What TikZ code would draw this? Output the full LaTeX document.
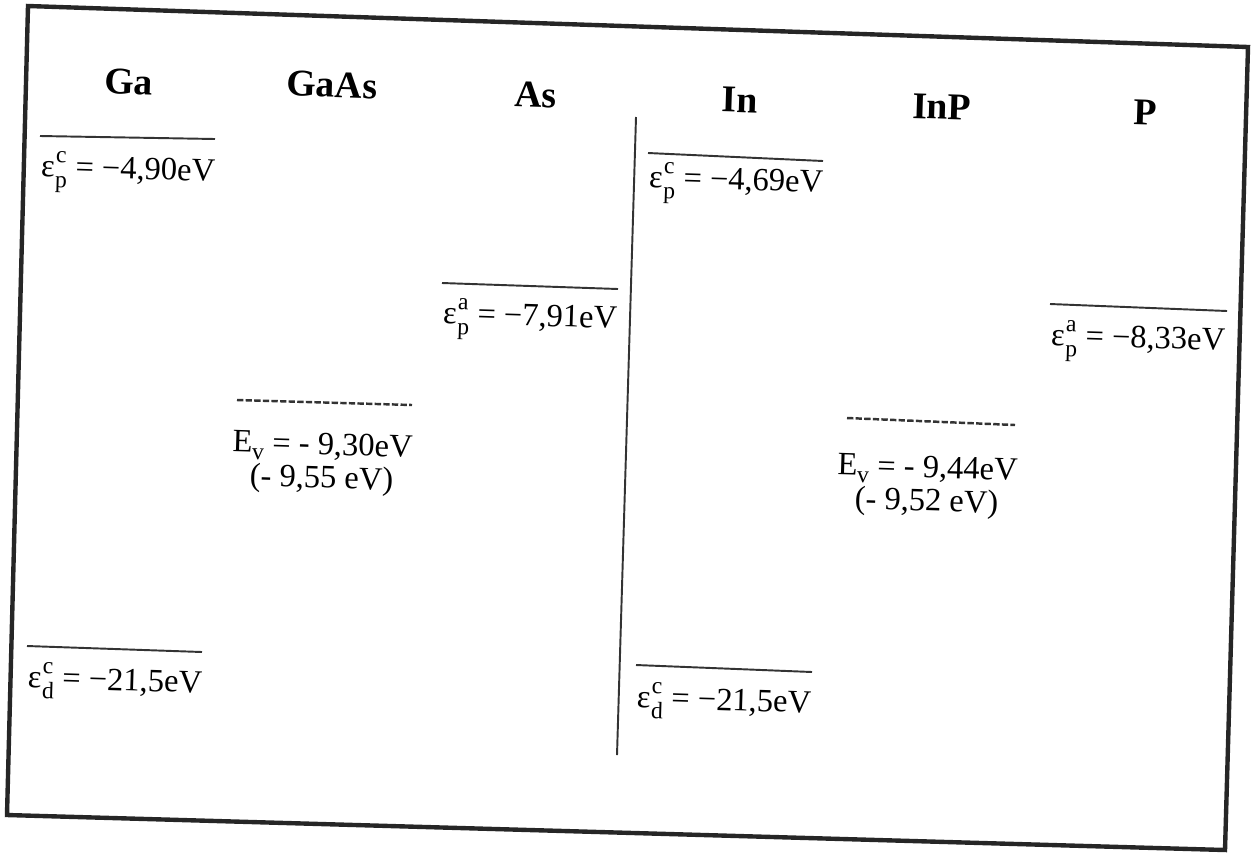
\documentclass[tikz,border=0pt]{standalone}
\usepackage{fontspec}
\setmainfont{Liberation Serif}
\usetikzlibrary{positioning}
\tikzset{
  every picture/.style={line width=1.1pt},
  frame/.style={draw=black!85, line width=2.5pt, line join=miter},
  level/.style={draw=black!80, line width=1.1pt},
  vlevel/.style={level, line width=1.4pt, dash pattern=on 3.6pt off 1.3pt},
  head/.style={font=\fontsize{21.5}{23}\selectfont\bfseries, rotate=-1.8, inner sep=0pt},
  lab/.style={font=\fontsize{18.5}{19.5}\selectfont, rotate=-1.8, inner sep=0pt, anchor=west},
  evlab/.style={font=\fontsize{18.5}{19}\selectfont, rotate=-1.8, inner sep=0pt, align=center},
}
\newcommand{\scrsize}{\fontsize{13.5}{13.5}\selectfont}
\newcommand{\supsub}[2]{\makebox[0pt][l]{\raisebox{0.45em}{\scrsize #1}}\raisebox{-0.32em}{\scrsize #2}}
\newcommand{\epslevel}[3]{ε\kern0.5pt\supsub{#1}{#2} = −#3eV}

\begin{document}
\begin{tikzpicture}[x=0.02cm, y=-0.02cm]
  \useasboundingbox (0,0) rectangle (1253,853);
  % ---------- frame
  \draw[frame] (28,6) -- (1248,47) -- (1225,850) -- (7,815) -- cycle;
  % ---------- column heads
  \foreach \t/\x/\y [count=\j] in {Ga/129/82, GaAs/332/85, As/536/95, In/740/100, InP/942/107, P/1145/112}
    \node[head] (h\j) at (\x,\y) {\t};
  % ---------- separator between the two compounds
  \coordinate (septop) at (636,117);
  \coordinate (sepbot) at (617,755);
  \draw[level] (septop) -- (sepbot);
  % ---------- atomic levels
  \foreach \xa/\ya/\xb/\yb/\ty/\s/\d/\v [count=\j] in {
      40/136/215/139/171/c/p/4{,}90,
      442/283/618/289/318/a/p/7{,}91,
      648/153/823/161/182/c/p/4{,}69,
      1050/304/1227/311/340/a/p/8{,}33,
      27/646/202/652/680/c/d/21{,}5,
      636/665/812/672/700/c/d/21{,}5}{
    \coordinate (la\j) at (\xa,\ya);
    \coordinate (lb\j) at (\xb,\yb);
    \draw[level] (la\j) -- (lb\j);
    \node[lab] (t\j) at (\xa,\ty) {\epslevel{\s}{\d}{\v}};
  }
  % ---------- valence band edges
  \coordinate (va1) at (237,400);
  \coordinate (vb1) at (412,405);
  \draw[vlevel] (va1) -- (vb1);
  \node[evlab] (ev1) at (322,464) {E\raisebox{-0.22em}{\scrsize v} = - 9,30eV\\(- 9,55 eV)};
  \coordinate (va2) at (847,418);
  \coordinate (vb2) at (1015,425);
  \draw[vlevel] (va2) -- (vb2);
  \node[evlab] (ev2) at (927,487) {E\raisebox{-0.22em}{\scrsize v} = - 9,44eV\\(- 9,52 eV)};
\end{tikzpicture}
\end{document}
